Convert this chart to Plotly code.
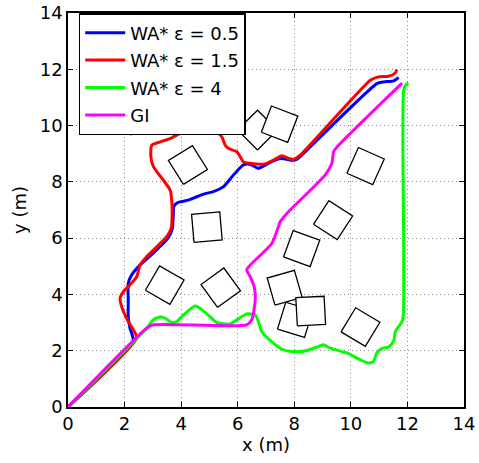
import numpy as np
import plotly.graph_objects as go

# ---------------- data ----------------
tick_vals = [0, 2, 4, 6, 8, 10, 12, 14]

wa05_x = [0, 2.30, 2.19, 2.13, 2.13, 2.13, 2.25, 2.55, 2.78, 3.20, 3.55, 3.68, 3.72, 3.74, 3.85, 3.96, 4.25, 4.55, 4.85, 5.14, 5.50, 5.85, 6.20, 6.45, 6.73, 6.95, 7.26, 7.56, 7.86, 8.09, 8.45, 10.92, 11.16, 11.51, 11.69]
wa05_y = [0, 2.35, 2.80, 3.20, 3.80, 4.40, 4.69, 5.05, 5.25, 5.65, 6.02, 6.30, 6.76, 7.12, 7.25, 7.29, 7.35, 7.47, 7.58, 7.65, 7.83, 8.24, 8.60, 8.62, 8.48, 8.58, 8.75, 8.83, 8.77, 8.80, 9.13, 11.49, 11.55, 11.59, 11.71]

wa15_x = [0, 2.43, 2.31, 2.13, 1.92, 1.84, 1.96, 2.19, 2.43, 2.55, 2.78, 3.49, 3.65, 3.68, 3.67, 3.61, 3.37, 3.02, 2.93, 2.96, 3.26, 3.61, 3.96, 4.20, 5.26, 5.44, 5.56, 5.67, 5.97, 6.09, 6.20, 6.44, 6.91, 7.26, 7.56, 7.80, 7.97, 8.21, 10.69, 10.98, 11.33, 11.57, 11.63]
wa15_y = [0, 2.45, 2.74, 3.04, 3.50, 3.87, 4.10, 4.34, 4.63, 5.05, 5.34, 6.05, 6.35, 6.76, 7.30, 7.71, 8.06, 8.54, 8.89, 9.30, 9.42, 9.54, 9.72, 9.75, 9.75, 9.60, 9.30, 9.19, 9.07, 8.89, 8.71, 8.66, 8.63, 8.77, 8.93, 8.83, 8.80, 8.95, 11.61, 11.73, 11.75, 11.87, 11.99]

wa4_x = [0, 2.78, 3.02, 3.26, 3.43, 3.67, 3.85, 4.08, 4.49, 4.67, 5.02, 5.26, 5.73, 5.97, 6.32, 6.62, 6.73, 6.85, 7.26, 7.62, 8.09, 8.45, 8.80, 9.03, 9.27, 9.86, 10.33, 10.63, 10.80, 10.92, 11.10, 11.33, 11.51, 11.57, 11.81, 11.86, 11.87, 11.87, 11.96, 12.04]
wa4_y = [0, 2.80, 3.10, 3.21, 3.16, 3.00, 3.04, 3.27, 3.59, 3.51, 3.21, 3.00, 2.95, 3.10, 3.31, 3.27, 3.04, 2.68, 2.27, 2.03, 1.97, 2.01, 2.13, 2.21, 2.09, 1.92, 1.68, 1.56, 1.62, 1.92, 2.08, 2.13, 2.33, 2.68, 3.04, 3.33, 5.58, 11.26, 11.47, 11.51]

gi_x = [0, 2.78, 3.02, 6.32, 6.50, 6.62, 6.58, 6.44, 6.32, 6.44, 7.21, 7.44, 7.50, 7.74, 9.09, 9.33, 9.39, 9.51, 11.81]
gi_y = [0, 2.80, 2.92, 2.92, 3.10, 3.82, 4.28, 4.63, 4.87, 5.04, 5.82, 6.41, 6.58, 6.88, 8.24, 8.66, 9.07, 9.24, 11.51]

# obstacles: centre x, centre y, rotation (deg), drawn in this order
obs_cx = [2.23, 4.24, 4.91, 3.42, 5.40, 6.70, 7.48, 10.52, 9.37, 8.26, 8.03, 7.66, 8.58, 10.34]
obs_cy = [10.37, 8.60, 6.39, 4.33, 4.24, 9.84, 10.05, 8.56, 6.64, 5.63, 3.10, 4.24, 3.41, 2.84]
obs_ang = [45, 32, 5, -30, 36, 45, -21, -24, -33, -20, -17, 16, 3, -31]
obs_side = 1.0

series = [
    ("WA* ε = 0.5", wa05_x, wa05_y, "#0000ff"),
    ("WA* ε = 1.5", wa15_x, wa15_y, "#ff0000"),
    ("WA* ε = 4", wa4_x, wa4_y, "#00ff00"),
    ("GI", gi_x, gi_y, "#ff00ff"),
]

FONT = "DejaVu Sans, sans-serif"

fig = go.Figure()

h = obs_side / 2
base = np.array([[-h, -h], [h, -h], [h, h], [-h, h], [-h, -h]])
for cx, cy, a in zip(obs_cx, obs_cy, obs_ang):
    t = np.deg2rad(a)
    R = np.array([[np.cos(t), -np.sin(t)], [np.sin(t), np.cos(t)]])
    pts = base @ R.T
    fig.add_trace(go.Scatter(
        x=pts[:, 0] + cx, y=pts[:, 1] + cy, mode="lines",
        line=dict(color="black", width=1.3), fill="toself", fillcolor="white",
        showlegend=False, hoverinfo="skip"))

for i, (name, xs, ys, col) in enumerate(series):
    fig.add_trace(go.Scatter(
        x=xs, y=ys, mode="lines", name=name,
        line=dict(color=col, width=3, shape="spline", smoothing=0.6),
        legendgroup=f"g{i}"))

axis_common = dict(
    range=[0, 14], tickvals=tick_vals, ticks="inside", ticklen=5,
    tickcolor="black", tickwidth=1, showline=True, linecolor="black",
    linewidth=1.5, mirror="ticks", showgrid=True, gridcolor="#8c8c8c",
    griddash="1px,3px", gridwidth=1, zeroline=False, automargin=False,
    tickfont=dict(family=FONT, size=18, color="black"),
    title_font=dict(family=FONT, size=18, color="black"),
)

fig.update_layout(
    width=479, height=463,
    margin=dict(l=68, r=15, t=13, b=56),
    paper_bgcolor="white", plot_bgcolor="white",
    xaxis=dict(axis_common, title=dict(text="x (m)", standoff=4)),
    yaxis=dict(axis_common, title=dict(text="y (m)", standoff=8)),
    showlegend=True,
    legend=dict(
        x=0.027, y=1.0, xanchor="left", yanchor="top",
        bgcolor="white", bordercolor="black", borderwidth=1.5,
        font=dict(family=FONT, size=18, color="black"),
        tracegroupgap=1, itemwidth=40,
    ),
)

fig.write_html("out.html")
